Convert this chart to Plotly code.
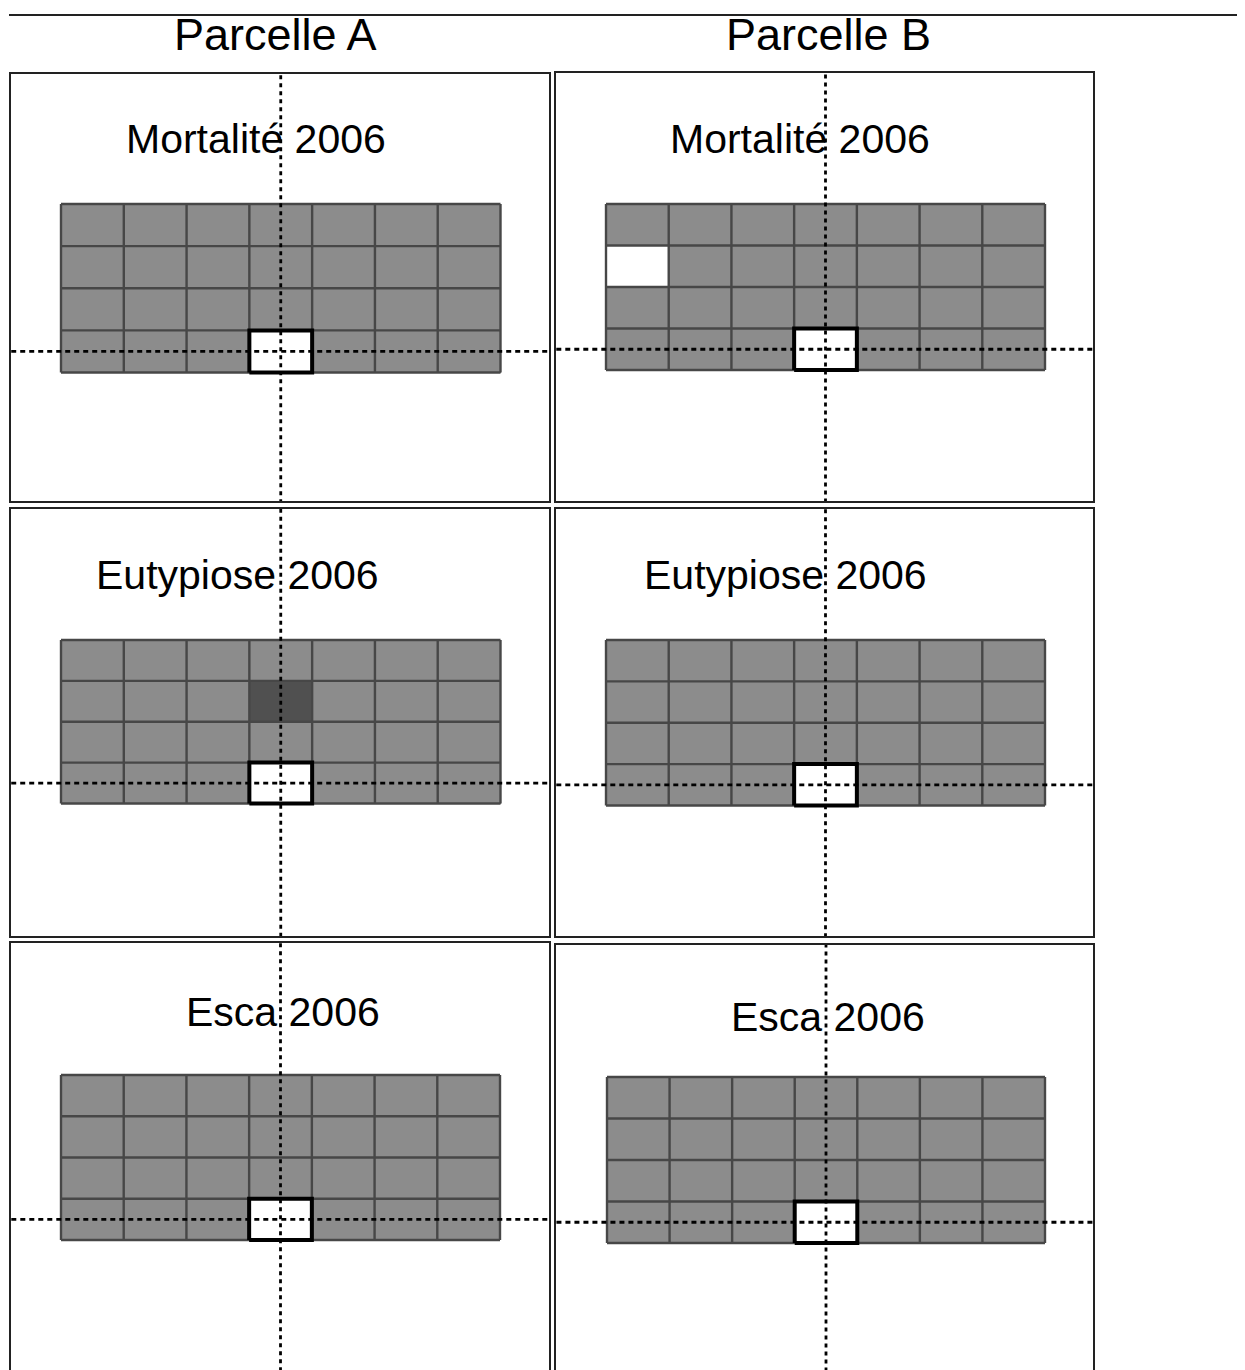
import plotly.graph_objects as go

# ---------------- data ----------------
parcelles = ["Parcelle A", "Parcelle B"]
maladies = ["Mortalité 2006", "Eutypiose 2006", "Esca 2006"]
n_cols = 7
n_rows = 4
# cell states, rows listed from top to bottom: 0 = white, 1 = grey, 2 = dark grey
A_mortalite = [[1, 1, 1, 1, 1, 1, 1],
               [1, 1, 1, 1, 1, 1, 1],
               [1, 1, 1, 1, 1, 1, 1],
               [1, 1, 1, 0, 1, 1, 1]]
B_mortalite = [[1, 1, 1, 1, 1, 1, 1],
               [0, 1, 1, 1, 1, 1, 1],
               [1, 1, 1, 1, 1, 1, 1],
               [1, 1, 1, 0, 1, 1, 1]]
A_eutypiose = [[1, 1, 1, 1, 1, 1, 1],
               [1, 1, 1, 2, 1, 1, 1],
               [1, 1, 1, 1, 1, 1, 1],
               [1, 1, 1, 0, 1, 1, 1]]
B_eutypiose = [[1, 1, 1, 1, 1, 1, 1],
               [1, 1, 1, 1, 1, 1, 1],
               [1, 1, 1, 1, 1, 1, 1],
               [1, 1, 1, 0, 1, 1, 1]]
A_esca = [[1, 1, 1, 1, 1, 1, 1],
          [1, 1, 1, 1, 1, 1, 1],
          [1, 1, 1, 1, 1, 1, 1],
          [1, 1, 1, 0, 1, 1, 1]]
B_esca = [[1, 1, 1, 1, 1, 1, 1],
          [1, 1, 1, 1, 1, 1, 1],
          [1, 1, 1, 1, 1, 1, 1],
          [1, 1, 1, 0, 1, 1, 1]]
# focal plant: column index (from left), row index (from bottom)
focal_col = 3
focal_row = 0

grids = [[A_mortalite, B_mortalite],
         [A_eutypiose, B_eutypiose],
         [A_esca, B_esca]]

# ---------------- layout (page pixels) ----------------
W, H = 1245, 1370
OFF = 8  # page body margin
# panel boxes: (x0, x1, y0, y1)
boxes = [[(11, 549, 74, 501), (556, 1093, 73, 501)],
         [(11, 549, 509, 936), (556, 1093, 509, 936)],
         [(11, 549, 943, 1378), (556, 1093, 945, 1378)]]
# grid extents: (gx0, gx1, gy0, gy1)
gridpx = [[(61, 500.5, 204, 372.5), (606, 1045, 204, 370)],
          [(61, 500.5, 640, 803.5), (606, 1045, 640, 805.5)],
          [(61, 500, 1075, 1240), (607, 1045, 1077, 1243)]]
# title centres (px)
titlepx = [[(256, 139), (800, 139)],
           [(237, 575), (785, 575)],
           [(283, 1012), (828, 1017)]]

GREY = "#8c8c8c"
DARK = "#505050"
LINE = "#474747"
colorscale = [[0, "white"], [1/3, "white"], [1/3, GREY], [2/3, GREY],
              [2/3, DARK], [1, DARK]]

fig = go.Figure()
layout_axes = {}
annotations = []

k = 0
for r in range(3):
    for c in range(2):
        k += 1
        xa = "x" if k == 1 else f"x{k}"
        ya = "y" if k == 1 else f"y{k}"
        x0, x1, y0, y1 = [v - OFF for v in boxes[r][c]]
        gx0, gx1, gy0, gy1 = [v - OFF for v in gridpx[r][c]]
        cw = (gx1 - gx0) / n_cols
        ch = (gy1 - gy0) / n_rows
        xr = [(x0 - gx0) / cw, (x1 - gx0) / cw]
        yr = [(gy1 - y1) / ch, (gy1 - y0) / ch]

        z = grids[r][c][::-1]  # bottom row first
        fig.add_trace(go.Heatmap(
            z=z, x=[i + 0.5 for i in range(n_cols)], y=[j + 0.5 for j in range(n_rows)],
            zmin=0, zmax=2, colorscale=colorscale, showscale=False,
            hoverinfo="skip", xaxis=xa, yaxis=ya))

        # cell borders
        gxs, gys = [], []
        for i in range(n_cols + 1):
            gxs += [i, i, None]
            gys += [0, n_rows, None]
        for j in range(n_rows + 1):
            gxs += [0, n_cols, None]
            gys += [j, j, None]
        fig.add_trace(go.Scatter(x=gxs, y=gys, mode="lines",
                                 line=dict(color=LINE, width=2.4),
                                 hoverinfo="skip", showlegend=False,
                                 xaxis=xa, yaxis=ya))
        # focal cell
        fx = [focal_col, focal_col + 1, focal_col + 1, focal_col, focal_col]
        fy = [focal_row, focal_row, focal_row + 1, focal_row + 1, focal_row]
        fig.add_trace(go.Scatter(x=fx, y=fy, mode="lines",
                                 line=dict(color="black", width=4),
                                 hoverinfo="skip", showlegend=False,
                                 xaxis=xa, yaxis=ya))
        # dotted cross through the focal plant
        cx = focal_col + 0.5
        cy = focal_row + 0.5
        fig.add_trace(go.Scatter(x=[cx, cx], y=[yr[0] - 1, yr[1] + 1], mode="lines",
                                 line=dict(color="black", width=2.8, dash="4px,4px"),
                                 hoverinfo="skip", showlegend=False,
                                 xaxis=xa, yaxis=ya))
        fig.add_trace(go.Scatter(x=[xr[0] - 1, xr[1] + 1], y=[cy, cy], mode="lines",
                                 line=dict(color="black", width=2.8, dash="5px,4px"),
                                 hoverinfo="skip", showlegend=False,
                                 xaxis=xa, yaxis=ya))

        tx, ty = titlepx[r][c]
        tx -= OFF
        ty -= OFF
        annotations.append(dict(text=maladies[r], x=(tx - gx0) / cw, y=(gy1 - ty) / ch,
                                xref=xa, yref=ya, showarrow=False,
                                xanchor="center", yanchor="middle",
                                font=dict(size=41, color="black",
                                          family="Liberation Sans, Arial, sans-serif")))

        axname_x = "xaxis" if k == 1 else f"xaxis{k}"
        axname_y = "yaxis" if k == 1 else f"yaxis{k}"
        layout_axes[axname_x] = dict(domain=[x0 / W, x1 / W], range=xr,
                                     showgrid=False, zeroline=False, showticklabels=False,
                                     ticks="", showline=True, mirror=True,
                                     linecolor="#222222", linewidth=2,
                                     anchor=ya, fixedrange=True)
        layout_axes[axname_y] = dict(domain=[max(0, 1 - y1 / H), 1 - y0 / H], range=yr,
                                     showgrid=False, zeroline=False, showticklabels=False,
                                     ticks="", showline=True, mirror=True,
                                     linecolor="#222222", linewidth=2,
                                     anchor=xa, fixedrange=True)

# column headers
header_px = [(275, 35), (828, 35)]
for name, (hx, hy) in zip(parcelles, header_px):
    annotations.append(dict(text=name, x=(hx - OFF) / W, y=1 - (hy - OFF) / H,
                            xref="paper", yref="paper",
                            showarrow=False, xanchor="center", yanchor="middle",
                            font=dict(size=45, color="black",
                                      family="Liberation Sans, Arial, sans-serif")))

fig.update_layout(
    width=W, height=H,
    margin=dict(l=0, r=0, t=0, b=0),
    paper_bgcolor="white", plot_bgcolor="white",
    showlegend=False,
    annotations=annotations,
    shapes=[dict(type="line", xref="paper", yref="paper",
                 x0=(9 - OFF) / W, x1=1, y0=1 - (15 - OFF) / H, y1=1 - (15 - OFF) / H,
                 line=dict(color="#222222", width=2))],
    **layout_axes,
)

fig.write_html("out.html")
